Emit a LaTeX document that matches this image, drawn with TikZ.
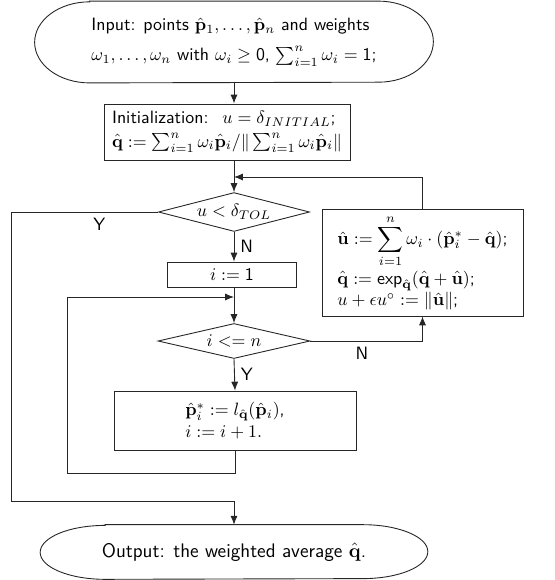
\documentclass[tikz,border=0pt]{standalone}
\usepackage{amsmath,amssymb}
\usepackage{tikz}
\usetikzlibrary{arrows.meta,shapes.geometric}

% terminal outline: flat top and bottom, half-ellipse ends
\newcommand{\termoutline}[3]{%
  \draw[flowline] ([xshift=#2]#1.north west) -- ([xshift=-#2]#1.north east)
    arc[start angle=90,end angle=-90,x radius=#2,y radius=#3]
    -- ([xshift=#2]#1.south west)
    arc[start angle=270,end angle=90,x radius=#2,y radius=#3] -- cycle;}

\begin{document}
\begin{tikzpicture}[x=0.56pt,y=-0.56pt,>={Latex[length=5pt,width=4pt]},
  flowline/.style={line width=0.5pt,draw=black!85},
  term/.style={inner sep=0pt,font=\sffamily,align=left},
  proc/.style={draw,flowline,rectangle,inner sep=3pt,font=\sffamily},
  decision/.style={draw,flowline,diamond,aspect=4,inner sep=0pt,font=\sffamily},
  branch/.style={font=\sffamily}]
  \useasboundingbox (0,0) rectangle (555,580);

  % start and end
  \node[term,minimum width=222.9pt,minimum height=45.4pt] (input) at (234,42)
    {Input: points $\hat{\mathbf{p}}_1,\dots,\hat{\mathbf{p}}_n$ and weights\\[5pt]
     $\omega_1,\dots,\omega_n$ with $\omega_i\geq\mathsf{0}$, $\sum_{i=1}^{n}\omega_i=\mathsf{1}$;};
  \termoutline{input}{30.8pt}{22.7pt}
  \node[term,minimum width=216.7pt,minimum height=30.2pt,font=\sffamily\fontsize{11}{13}\selectfont] (output) at (234,552)
    {Output: the weighted average $\hat{\mathbf{q}}$.};
  \termoutline{output}{36.4pt}{15.1pt}

  % steps
  \node[proc,minimum width=137.8pt,minimum height=31.4pt,align=left] (init) at (227,132)
    {Initialization: \ $u=\delta_{INITIAL}$;\\[1pt]
     $\hat{\mathbf{q}}:=\sum_{i=1}^{n}\omega_i\hat{\mathbf{p}}_i/\|\sum_{i=1}^{n}\omega_i\hat{\mathbf{p}}_i\|$};
  \node[decision,minimum width=84.6pt,minimum height=21.8pt] (dec1) at (234,212) {$u<\delta_{TOL}$};
  \node[proc,minimum width=72.2pt,minimum height=14pt] (i1) at (232,274.5) {$i:=\mathsf{1}$};
  \node[decision,minimum width=85.1pt,minimum height=19.6pt] (dec2) at (234,341) {$i<=n$};
  \node[proc,minimum width=135.5pt,minimum height=33pt,align=left] (inner) at (235,420.5)
    {$\hat{\mathbf{p}}_i^{*}:=l_{\hat{\mathbf{q}}}(\hat{\mathbf{p}}_i)$,\\ $i:=i+1.$};
  \node[proc,minimum width=112.6pt,minimum height=59.9pt,align=left] (update) at (422.5,262.5)
    {$\hat{\mathbf{u}}:=\displaystyle\sum_{i=1}^{n}\omega_i\cdot(\hat{\mathbf{p}}_i^{*}-\hat{\mathbf{q}})$;\\[1pt]
     $\hat{\mathbf{q}}:=\mathsf{exp}_{\hat{\mathbf{q}}}(\hat{\mathbf{q}}+\hat{\mathbf{u}})$;\\
     $u+\epsilon u^{\circ}:=\|\hat{\mathbf{u}}\|$;};

  % bends of the connectors
  \coordinate (join) at (234,177);
  \coordinate (ycorner) at (11,501);
  \coordinate (loopa) at (67,473);
  \coordinate (loopb) at (234,297);

  \draw[flowline,->] (input.south) -- (input.south |- init.north);
  \draw[flowline,->] (input.south |- init.south) -- (dec1.north);
  \draw[flowline,->] (update.north) |- (join);
  \draw[flowline,->] (dec1.west) -| node[branch,pos=0.2,below] {Y} (ycorner) -| (output.north);
  \draw[flowline,->] (dec1.south) -- node[branch,right] {N} (dec1.south |- i1.north);
  \draw[flowline,->] (dec1.south |- i1.south) -- (dec2.north);
  \draw[flowline,->] (inner.south) |- (loopa) |- (loopb);
  \draw[flowline,->] (dec2.east) -| node[branch,pos=0.23,below] {N} (update.south);
  \draw[flowline,->] (dec2.south) -- node[branch,right] {Y} (inner.north);
\end{tikzpicture}
\end{document}
